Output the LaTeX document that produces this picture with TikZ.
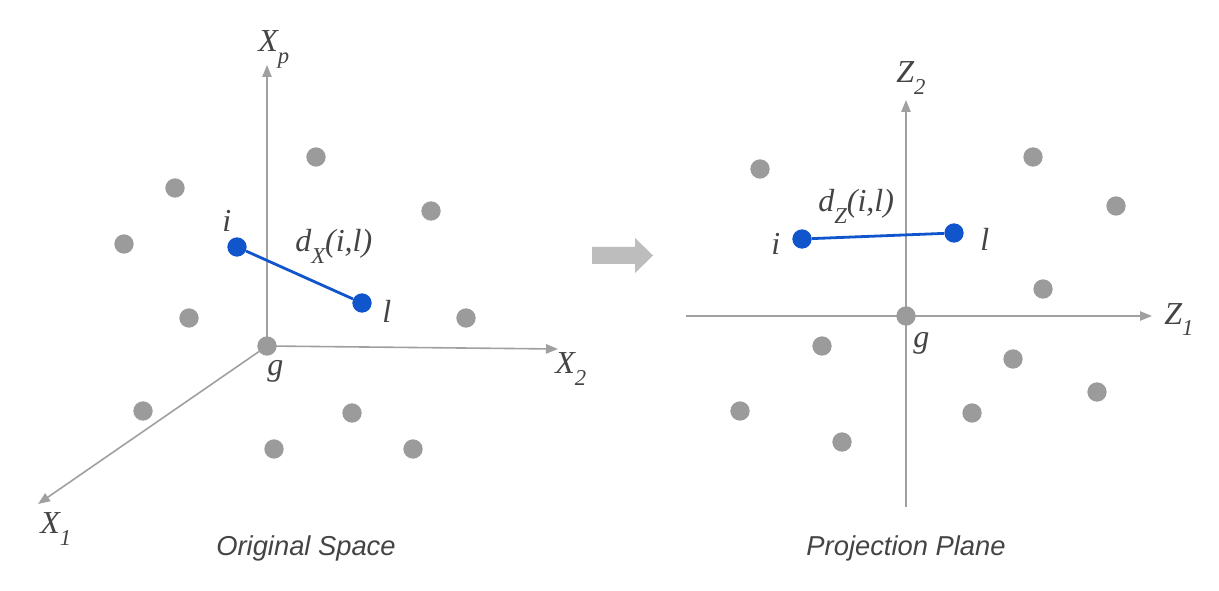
\documentclass[tikz,border=0pt]{standalone}
\usepackage{fontspec}
\setmainfont{Liberation Serif}
\newfontfamily\capfont{Liberation Sans}
\usetikzlibrary{arrows.meta}
\definecolor{axisgray}{HTML}{A0A0A0}
\definecolor{dotgray}{HTML}{9B9B9B}
\definecolor{arrgray}{HTML}{BDBDBD}
\definecolor{ptblue}{HTML}{1155CC}
\definecolor{txt}{HTML}{444444}
\newcommand{\mylab}[3]{{\fontsize{24}{24}\selectfont\itshape #1}\raisebox{-9pt}{\fontsize{17}{17}\selectfont\itshape #2}{\fontsize{24}{24}\selectfont\itshape #3}}
\begin{document}
\begin{tikzpicture}[x=0.75pt,y=-0.75pt,
  axisline/.style={draw=axisgray, line width=1.2pt},
  axisarrow/.style={axisline, -{Triangle[length=9pt,width=7pt]}},
  gdot/.style={circle, fill=dotgray, inner sep=0pt, minimum size=14.5pt},
  bdot/.style={circle, fill=ptblue, inner sep=0pt, minimum size=14.5pt},
  blueline/.style={draw=ptblue, line width=2.1pt},
  lbl/.style={anchor=base west, inner sep=0pt, text=txt},
  captxt/.style={anchor=base, inner sep=0pt, text=txt, font=\capfont\itshape\fontsize{20.5}{21}\selectfont}]
\fill[white] (0,0) rectangle (1219,591);
\path[use as bounding box] (0,0) rectangle (1219,591);

% ---------- Left panel: original space ----------
\coordinate (o1) at (267,346);
\coordinate (xpend) at (267,65);
\coordinate (x2end) at (558,349);
\coordinate (x1end) at (38,504);
\draw[axisarrow] (o1) -- (xpend);
\draw[axisarrow] (o1) -- (x2end);
\draw[axisarrow] (o1) -- (x1end);

\node[gdot] (g1) at (o1) {};
\node[gdot] (a1) at (316,157) {};
\node[gdot] (a2) at (175,188) {};
\node[gdot] (a3) at (431,211) {};
\node[gdot] (a4) at (124,244) {};
\node[gdot] (a5) at (189,318) {};
\node[gdot] (a6) at (466,318) {};
\node[gdot] (a7) at (143,411) {};
\node[gdot] (a8) at (352,413) {};
\node[gdot] (a9) at (274,449) {};
\node[gdot] (a10) at (413,449) {};

\node[bdot] (i1) at (237,247) {};
\node[bdot] (l1) at (362,303) {};
\draw[blueline] (i1) -- (l1);

\node[lbl] (lxp) at (258,52) {\mylab{X}{p}{}};
\node[lbl] (lx2) at (555,373) {\mylab{X}{2}{}};
\node[lbl] (lx1) at (40,533) {\mylab{X}{1}{}};
\node[lbl] (lg1) at (267,375) {\mylab{g}{}{}};
\node[lbl] (li1) at (222,232) {\mylab{i}{}{}};
\node[lbl] (ll1) at (382,322) {\mylab{l}{}{}};
\node[lbl] (ld1) at (295,252) {\mylab{d}{X}{(i,l)}};
\node[captxt] (cap1) at (306,555) {Original Space};

% ---------- Transition arrow ----------
\fill[arrgray] (592,247) -- (635,247) -- (635,238) -- (653,255.5) -- (635,273) -- (635,264) -- (592,264) -- cycle;

% ---------- Right panel: projection plane ----------
\coordinate (o2) at (906,316);
\coordinate (z1start) at (686,316);
\coordinate (z1end) at (1152,316);
\coordinate (z2start) at (906,507);
\coordinate (z2end) at (906,100);
\draw[axisarrow] (z1start) -- (z1end);
\draw[axisarrow] (z2start) -- (z2end);

\node[gdot] (g2) at (o2) {};
\node[gdot] (b1) at (760,169) {};
\node[gdot] (b2) at (1033,157) {};
\node[gdot] (b3) at (1116,206) {};
\node[gdot] (b4) at (1043,289) {};
\node[gdot] (b5) at (822,346) {};
\node[gdot] (b6) at (1013,359) {};
\node[gdot] (b7) at (740,411) {};
\node[gdot] (b8) at (1097,392) {};
\node[gdot] (b9) at (972,413) {};
\node[gdot] (b10) at (842,442) {};

\node[bdot] (i2) at (802,239) {};
\node[bdot] (l2) at (954,233) {};
\draw[blueline] (i2) -- (l2);

\node[lbl] (lz2) at (896,83) {\mylab{Z}{2}{}};
\node[lbl] (lz1) at (1164,324) {\mylab{Z}{1}{}};
\node[lbl] (lg2) at (913,347) {\mylab{g}{}{}};
\node[lbl] (li2) at (771,255) {\mylab{i}{}{}};
\node[lbl] (ll2) at (980,251) {\mylab{l}{}{}};
\node[lbl] (ld2) at (818,212) {\mylab{d}{Z}{(i,l)}};
\node[captxt] (cap2) at (906,555) {Projection Plane};
\end{tikzpicture}
\end{document}
